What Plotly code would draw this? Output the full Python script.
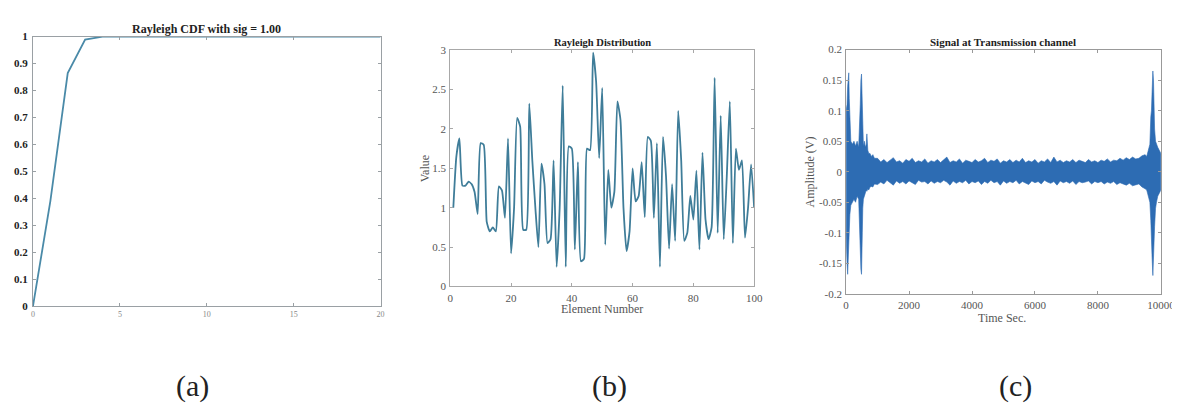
import plotly.graph_objects as go

# ---------------- data ----------------
# (a) Rayleigh CDF, sig = 1.00
cdf_x = list(range(0, 21))
cdf_y = [0.0, 0.39, 0.865, 0.989, 0.9997, 1.0, 1.0, 1.0, 1.0, 1.0, 1.0,
         1.0, 1.0, 1.0, 1.0, 1.0, 1.0, 1.0, 1.0, 1.0, 1.0]

# (b) Rayleigh distribution samples (element 1..100)
elem_n = list(range(1, 101))
ray_vals = [1.00, 1.65, 1.88, 1.28, 1.28, 1.33, 1.30, 1.20, 0.92, 1.82,
            1.80, 0.82, 0.70, 0.75, 0.70, 1.27, 1.22, 0.87, 1.88, 0.42,
            1.00, 2.14, 2.03, 0.72, 0.72, 2.32, 1.60, 1.00, 0.50, 1.56,
            1.30, 0.55, 0.60, 1.60, 0.25, 1.00, 2.55, 0.25, 1.78, 1.75,
            0.47, 1.58, 0.32, 0.35, 1.75, 1.73, 2.97, 2.60, 1.63, 2.52,
            0.53, 1.48, 1.00, 1.20, 2.35, 2.12, 1.00, 0.45, 0.70, 1.50,
            1.08, 1.15, 1.58, 0.88, 1.90, 1.85, 0.87, 1.82, 0.25, 1.90,
            1.40, 0.48, 1.30, 0.58, 2.23, 1.60, 0.58, 0.68, 1.15, 0.85,
            1.47, 0.47, 1.70, 0.85, 0.60, 0.75, 2.65, 0.68, 2.17, 0.60,
            1.40, 2.35, 0.55, 1.75, 1.48, 1.60, 0.62, 1.00, 1.55, 1.00]

# (c) Signal at transmission channel: envelope of the dense signal band
sig_t = [0, 10, 30, 50, 70, 85, 100, 120, 150, 200, 250, 300, 350, 400,
         430, 450, 470, 490, 500, 515, 530, 550, 580, 610, 640, 660, 690,
         720, 760, 800, 850, 900,
         1000, 1100, 1200, 1300, 1400, 1500, 1600, 1700, 1800, 1900,
         2000, 2100, 2200, 2300, 2400, 2500, 2600, 2700, 2800, 2900,
         3000, 3100, 3200, 3300, 3400, 3500, 3600, 3700, 3800, 3900,
         4000, 4100, 4200, 4300, 4400, 4500, 4600, 4700, 4800, 4900,
         5000, 5100, 5200, 5300, 5400, 5500, 5600, 5700, 5800, 5900,
         6000, 6100, 6200, 6300, 6400, 6500, 6600, 6700, 6800, 6900,
         7000, 7100, 7200, 7300, 7400, 7500, 7600, 7700, 7800, 7900,
         8000, 8100, 8200, 8300, 8400, 8500, 8600, 8700, 8800, 8900,
         9000, 9100, 9200,
         9300, 9400, 9500, 9550, 9600, 9650, 9680, 9700, 9720, 9745,
         9765, 9785, 9800, 9830, 9860, 9900, 9950, 10000]
sig_upper = [0.10, 0.105, 0.11, 0.14, 0.16, 0.162, 0.12, 0.08, 0.05, 0.045,
             0.05, 0.042, 0.05, 0.04, 0.07, 0.11, 0.15, 0.16, 0.14, 0.09,
             0.05, 0.042, 0.05, 0.04, 0.045, 0.062, 0.035, 0.03, 0.03, 0.025,
             0.028, 0.022,
             0.022, 0.016, 0.020, 0.015, 0.019, 0.023, 0.016, 0.018, 0.014, 0.020,
             0.017, 0.022, 0.015, 0.018, 0.016, 0.021, 0.014, 0.018, 0.016, 0.020,
             0.015, 0.019, 0.024, 0.015, 0.018, 0.016, 0.021, 0.014, 0.019, 0.017,
             0.015, 0.020, 0.016, 0.018, 0.022, 0.015, 0.019, 0.017, 0.021, 0.014,
             0.018, 0.016, 0.020, 0.015, 0.019, 0.016, 0.022, 0.015, 0.018, 0.016,
             0.020, 0.014, 0.018, 0.016, 0.021, 0.015, 0.024, 0.016, 0.019, 0.015,
             0.018, 0.016, 0.020, 0.015, 0.019, 0.017, 0.015, 0.020, 0.016, 0.018,
             0.015, 0.019, 0.017, 0.021, 0.016, 0.019, 0.018, 0.022, 0.019, 0.023,
             0.020, 0.024, 0.021,
             0.022, 0.026, 0.028, 0.025, 0.035, 0.045, 0.09, 0.10, 0.13, 0.165,
             0.15, 0.10, 0.07, 0.05, 0.045, 0.04, 0.035, 0.03]
sig_lower = [-0.10, -0.12, -0.15, -0.168, -0.16, -0.13, -0.10, -0.07, -0.055, -0.05,
             -0.045, -0.05, -0.04, -0.045, -0.07, -0.12, -0.16, -0.168, -0.15, -0.10,
             -0.06, -0.045, -0.04, -0.038, -0.03, -0.032, -0.028, -0.03, -0.025, -0.024,
             -0.025, -0.02,
             -0.021, -0.017, -0.020, -0.014, -0.018, -0.022, -0.015, -0.019, -0.016, -0.020,
             -0.015, -0.018, -0.021, -0.014, -0.017, -0.016, -0.020, -0.015, -0.019, -0.016,
             -0.018, -0.014, -0.017, -0.022, -0.015, -0.019, -0.016, -0.018, -0.014, -0.020,
             -0.016, -0.018, -0.015, -0.021, -0.016, -0.019, -0.014, -0.018, -0.016, -0.022,
             -0.015, -0.019, -0.016, -0.018, -0.014, -0.020, -0.016, -0.018, -0.021, -0.015,
             -0.018, -0.016, -0.020, -0.014, -0.017, -0.019, -0.016, -0.022, -0.015, -0.018,
             -0.016, -0.019, -0.015, -0.021, -0.016, -0.018, -0.017, -0.015, -0.020, -0.016,
             -0.018, -0.016, -0.020, -0.017, -0.019, -0.016, -0.021, -0.018, -0.020, -0.022,
             -0.019, -0.023, -0.021,
             -0.02, -0.025, -0.028, -0.03, -0.04, -0.05, -0.08, -0.10, -0.14, -0.17,
             -0.15, -0.12, -0.09, -0.06, -0.05, -0.04, -0.035, -0.03]

a_yticks = [0, 0.1, 0.2, 0.3, 0.4, 0.5, 0.6, 0.7, 0.8, 0.9, 1]
a_yticktext = ["0", "0.1", "0.2", "0.3", "0.4", "0.5", "0.6", "0.7", "0.8", "0.9", "1"]
a_xticks = [0, 5, 10, 15, 20]
b_xticks = [0, 20, 40, 60, 80, 100]
b_yticks = [0, 0.5, 1, 1.5, 2, 2.5, 3]
b_yticktext = ["0", "0.5", "1", "1.5", "2", "2.5", "3"]
c_xticks = [0, 2000, 4000, 6000, 8000, 10000]
c_yticks = [-0.2, -0.15, -0.1, -0.05, 0, 0.05, 0.1, 0.15, 0.2]
c_yticktext = ["-0.2", "-0.15", "-0.1", "-0.05", "0", "0.05", "0.1", "0.15", "0.2"]

titles = ["Rayleigh CDF with sig = 1.00", "Rayleigh Distribution",
          "Signal at Transmission channel"]
panel_labels = ["(a)", "(b)", "(c)"]

# ---------------- figure ----------------
W, H = 1180, 409
SERIF = "Liberation Serif"


def px_x(p):
    return p / W


def px_y(p):
    return 1 - p / H


fig = go.Figure()

fig.add_trace(go.Scatter(x=cdf_x, y=cdf_y, mode="lines",
                         line=dict(color="#4a8aa8", width=1.8),
                         xaxis="x", yaxis="y", showlegend=False))
fig.add_trace(go.Scatter(x=elem_n, y=ray_vals, mode="lines",
                         line=dict(color="#3f7d99", width=1.8, shape="spline", smoothing=0.5),
                         xaxis="x2", yaxis="y2", showlegend=False))
fig.add_trace(go.Scatter(x=sig_t + sig_t[::-1], y=sig_upper + sig_lower[::-1],
                         mode="lines", fill="toself", fillcolor="#2d6cb3",
                         line=dict(color="#2d6cb3", width=0.6),
                         xaxis="x3", yaxis="y3", showlegend=False))

common = dict(showline=True, mirror="ticks", ticks="inside", ticklen=3,
              showgrid=False, zeroline=False, fixedrange=True)

dom_a = ([px_x(22.3), px_x(375)], [px_y(301), px_y(23.3)])
dom_b = ([px_x(445.7), px_x(754)], [px_y(280.7), px_y(37.3)])
dom_c = ([px_x(847.3), px_x(1166.7)], [px_y(288.3), px_y(36.7)])

fig.update_layout(
    width=W, height=H, margin=dict(l=0, r=0, t=0, b=0),
    paper_bgcolor="white", plot_bgcolor="white",
    font=dict(family=SERIF, color="#333"),
    xaxis=dict(domain=dom_a[0], range=[0, 20], tickvals=a_xticks,
               tickfont=dict(size=8, color="#888"), ticklabelstandoff=0,
               linecolor="#9aa0a4", tickcolor="#9aa0a4", anchor="y", **common),
    yaxis=dict(domain=dom_a[1], range=[0, 1], tickvals=a_yticks, ticktext=a_yticktext,
               tickfont=dict(size=11, color="#222", weight="bold"), ticklabelstandoff=2,
               linecolor="#9aa0a4", tickcolor="#9aa0a4", anchor="x", **common),
    xaxis2=dict(domain=dom_b[0], range=[0, 100], tickvals=b_xticks,
                tickfont=dict(size=11, color="#555"), ticklabelstandoff=1,
                linecolor="#a8a8a8", tickcolor="#a8a8a8", anchor="y2", **common),
    yaxis2=dict(domain=dom_b[1], range=[0, 3], tickvals=b_yticks, ticktext=b_yticktext,
                tickfont=dict(size=11, color="#555"), ticklabelstandoff=1,
                linecolor="#a8a8a8", tickcolor="#a8a8a8", anchor="x2", **common),
    xaxis3=dict(domain=dom_c[0], range=[0, 10000], tickvals=c_xticks, tickformat="d",
                tickfont=dict(size=11, color="#555"), ticklabelstandoff=1,
                linecolor="#999", tickcolor="#999", anchor="y3", **common),
    yaxis3=dict(domain=dom_c[1], range=[-0.2, 0.2], tickvals=c_yticks, ticktext=c_yticktext,
                tickfont=dict(size=11, color="#555"), ticklabelstandoff=1,
                linecolor="#999", tickcolor="#999", anchor="x3", **common),
)

ann = []
# titles
for t, (cx, cy, fs) in zip(titles, [(198, 15, 12), (600, 29, 10.5), (1007, 29, 11)]):
    ann.append(dict(text="<b>" + t + "</b>", x=px_x(cx), y=px_y(cy), xref="paper", yref="paper",
                    showarrow=False, xanchor="center", yanchor="middle",
                    font=dict(family=SERIF, size=fs, color="#222")))
# axis titles
ann.append(dict(text="Element Number", x=px_x(600), y=px_y(304), xref="paper", yref="paper",
                showarrow=False, xanchor="center", yanchor="middle",
                font=dict(family=SERIF, size=12, color="#555")))
ann.append(dict(text="Value", x=px_x(420), y=px_y(159), xref="paper", yref="paper",
                showarrow=False, xanchor="center", yanchor="middle", textangle=-90,
                font=dict(family=SERIF, size=12, color="#555")))
ann.append(dict(text="Time Sec.", x=px_x(1005), y=px_y(313), xref="paper", yref="paper",
                showarrow=False, xanchor="center", yanchor="middle",
                font=dict(family=SERIF, size=12, color="#555")))
ann.append(dict(text="Amplitude (V)", x=px_x(811), y=px_y(163), xref="paper", yref="paper",
                showarrow=False, xanchor="center", yanchor="middle", textangle=-90,
                font=dict(family=SERIF, size=12, color="#555")))
# panel labels
for lab, cx in zip(panel_labels, [184, 607, 1019]):
    ann.append(dict(text=lab, x=px_x(cx), y=px_y(383), xref="paper", yref="paper",
                    showarrow=False, xanchor="center", yanchor="middle",
                    font=dict(family=SERIF, size=30, color="#222")))

fig.update_layout(annotations=ann)
fig.write_html("out.html")
